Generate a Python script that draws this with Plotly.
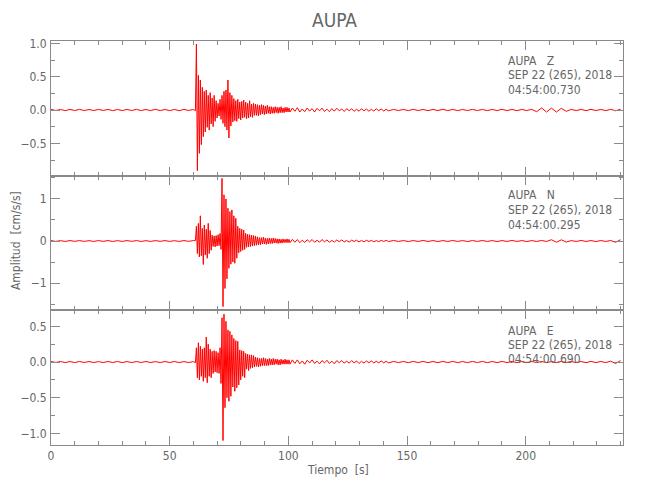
import numpy as np
import plotly.graph_objects as go
from plotly.subplots import make_subplots

# ---------------- data ----------------
STATION = "AUPA"
COMPONENTS = ["Z", "N", "E"]
DATE_LABEL = "SEP 22 (265), 2018"
START_TIMES = ["04:54:00.730", "04:54:00.295", "04:54:00.690"]

# sampling grids of the four segments of each record (s)
T_PRE = np.arange(0, 60.1, 2.0)                 # 31 samples
T_MAIN = 60.85 + 0.415 * np.arange(97)          # 97 samples
T_CODA = 101.7 + 1.04 * np.arange(40)           # 40 samples
T_TAIL = 144.3 + 2.08 * np.arange(47)           # 47 samples

Z_PRE = [0.008, -0.007, 0.007, -0.009, 0.008, -0.007, 0.009, -0.008, 0.007, -0.008,
         0.009, -0.007, 0.008, -0.009, 0.007, -0.008, 0.008, -0.007, 0.009, -0.008,
         0.007, -0.009, 0.01, -0.008, 0.007, -0.009, 0.008, -0.01, 0.009, -0.007, 0.008]
Z_MAIN = [-0.01, 0.99, -0.91, 0.52, -0.65, 0.45, -0.52, 0.34, -0.40, 0.28,
          -0.33, 0.30, -0.26, 0.22, -0.30, 0.26, -0.21, 0.18, -0.25, 0.22,
          -0.17, 0.14, -0.12, 0.10, -0.09, 0.16, -0.14, 0.22, -0.20, 0.28,
          -0.25, 0.30, -0.30, 0.45, -0.42, 0.26, -0.24, 0.22, -0.18, 0.17,
          -0.16, 0.14, -0.17, 0.16, -0.13, 0.12, -0.15, 0.13, -0.12, 0.15,
          -0.11, 0.12, -0.13, 0.10, -0.12, 0.14, -0.10, 0.09, -0.11, 0.10,
          -0.08, 0.09, -0.08, 0.08, -0.09, 0.07, -0.07, 0.08, -0.06, 0.07,
          -0.07, 0.06, -0.06, 0.07, -0.05, 0.05, -0.06, 0.05, -0.05, 0.04,
          -0.05, 0.05, -0.04, 0.04, -0.05, 0.04, -0.04, 0.05, -0.04, 0.03,
          -0.04, 0.04, -0.03, 0.04, -0.03, 0.03, -0.03]
Z_CODA = [0.03, -0.02, 0.035, -0.03, 0.015, -0.025, 0.03, -0.015, 0.02, -0.03,
          0.025, -0.012, 0.028, -0.022, 0.012, -0.025, 0.02, -0.018, 0.025, -0.012,
          0.015, -0.022, 0.02, -0.01, 0.018, -0.02, 0.012, -0.018, 0.02, -0.012,
          0.015, -0.018, 0.01, -0.015, 0.018, -0.01, 0.015, -0.015, 0.01, -0.012]
Z_TAIL = [0.009, -0.008, 0.008, -0.009, 0.009, -0.008, 0.008, -0.009, 0.008, -0.008,
          0.009, -0.008, 0.008, -0.009, 0.008, -0.008, 0.009, -0.008, 0.008, -0.009,
          0.008, -0.008, 0.009, -0.008, 0.008, -0.009, 0.008, -0.008, 0.009,
          -0.025, 0.03, -0.03, 0.028, -0.03, 0.025, -0.02,
          0.009, -0.008, 0.008, -0.009, 0.009, -0.008, 0.008, -0.009, 0.01, -0.012, 0.012]

N_PRE = [0.01, -0.009, 0.008, -0.01, 0.01, -0.008, 0.01, -0.009, 0.008, -0.01,
         0.01, -0.008, 0.01, -0.01, 0.008, -0.009, 0.01, -0.008, 0.01, -0.01,
         0.008, -0.01, 0.01, -0.008, 0.01, -0.009, 0.008, -0.01, 0.01, -0.008, 0.01]
N_MAIN = [0.01, 0.35, -0.30, 0.42, -0.38, 0.60, -0.35, 0.30, -0.56, 0.38,
          -0.33, 0.28, -0.41, 0.42, -0.30, 0.25, -0.22, 0.14, -0.13, 0.12,
          -0.14, 0.13, -0.12, 0.15, -0.11, 0.18, -0.20, 1.49, -1.56, 1.10,
          -1.13, 1.00, -0.90, 0.78, -0.65, 0.70, -0.55, 0.74, -0.50, 0.60,
          -0.53, 0.54, -0.41, 0.35, -0.28, 0.30, -0.25, 0.28, -0.22, 0.26,
          -0.20, 0.18, -0.15, 0.16, -0.14, 0.15, -0.13, 0.14, -0.12, 0.13,
          -0.11, 0.12, -0.10, 0.10, -0.09, 0.08, -0.09, 0.08, -0.07, 0.09,
          -0.07, 0.07, -0.08, 0.06, -0.07, 0.07, -0.06, 0.06, -0.06, 0.07,
          -0.05, 0.06, -0.05, 0.05, -0.06, 0.05, -0.05, 0.04, -0.05, 0.05,
          -0.04, 0.04, -0.04, 0.05, -0.04, 0.04, -0.04]
N_CODA = [0.04, -0.03, 0.035, -0.04, 0.02, -0.035, 0.03, -0.02, 0.035, -0.03,
          0.018, -0.03, 0.035, -0.02, 0.025, -0.03, 0.015, -0.025, 0.025, -0.015,
          0.025, -0.02, 0.012, -0.025, 0.02, -0.012, 0.02, -0.02, 0.012, -0.02,
          0.018, -0.012, 0.015, -0.018, 0.01, -0.015, 0.015, -0.01, 0.015, -0.012]
N_TAIL = [0.012, -0.01, 0.01, -0.012, 0.01, -0.01, 0.012, -0.01, 0.01, -0.012,
          0.01, -0.01, 0.012, -0.01, 0.01, -0.012, 0.01, -0.01, 0.012, -0.01,
          0.01, -0.012, 0.01, -0.01, 0.012, -0.01, 0.01, -0.012, 0.01, -0.01,
          0.012, -0.01,
          0.03, -0.03, 0.028, -0.025,
          0.01, -0.01, 0.012, -0.01, 0.01, -0.012, 0.01, -0.01, 0.012,
          -0.03, 0.03]

E_PRE = [0.007, -0.006, 0.007, -0.007, 0.006, -0.007, 0.007, -0.006, 0.007, -0.007,
         0.006, -0.007, 0.007, -0.006, 0.007, -0.007, 0.006, -0.007, 0.007, -0.006,
         0.007, -0.007, 0.006, -0.007, 0.007, -0.006, 0.007, -0.007, 0.006, -0.007, 0.006]
E_MAIN = [-0.01, 0.20, -0.22, 0.27, -0.25, 0.22, -0.20, 0.18, -0.27, 0.20,
          -0.22, 0.35, -0.29, 0.25, -0.20, 0.18, -0.22, 0.15, -0.16, 0.16,
          -0.14, 0.15, -0.15, 0.13, -0.16, 0.20, -0.30, 0.62, -1.10, 0.67,
          -0.64, 0.57, -0.50, 0.45, -0.55, 0.43, -0.48, 0.38, -0.35, 0.33,
          -0.41, 0.30, -0.36, 0.29, -0.32, 0.17, -0.25, 0.16, -0.20, 0.15,
          -0.22, 0.12, -0.10, 0.11, -0.12, 0.10, -0.09, 0.10, -0.08, 0.09,
          -0.07, 0.07, -0.06, 0.06, -0.07, 0.05, -0.06, 0.05, -0.05, 0.06,
          -0.05, 0.05, -0.05, 0.04, -0.05, 0.05, -0.04, 0.04, -0.04, 0.05,
          -0.04, 0.04, -0.03, 0.04, -0.04, 0.03, -0.04, 0.04, -0.03, 0.03,
          -0.03, 0.04, -0.03, 0.03, -0.03, 0.03, -0.03]
E_CODA = [0.03, -0.02, 0.03, -0.025, 0.015, -0.03, 0.025, -0.012, 0.03, -0.02,
          0.012, -0.025, 0.02, -0.012, 0.025, -0.02, 0.012, -0.025, 0.02, -0.01,
          0.02, -0.015, 0.01, -0.015, 0.02, -0.012, 0.015, -0.02, 0.01, -0.015,
          0.015, -0.01, 0.015, -0.012, 0.01, -0.01, 0.015, -0.012, 0.01, -0.012]
E_TAIL = [0.008, -0.007, 0.007, -0.008, 0.008, -0.007, 0.008, -0.008, 0.007, -0.008,
          0.008, -0.007, 0.008, -0.008, 0.007, -0.008, 0.008, -0.007, 0.008, -0.008,
          0.007, -0.008, 0.008, -0.007, 0.008, -0.008, 0.007, -0.008, 0.008, -0.007,
          0.008, -0.008, 0.007, -0.008, 0.008, -0.007, 0.008, -0.008, 0.007, -0.008,
          0.008, -0.007, 0.008, -0.008, 0.012, -0.02, 0.02]

RECORDS = {
    "Z": (Z_PRE, Z_MAIN, Z_CODA, Z_TAIL),
    "N": (N_PRE, N_MAIN, N_CODA, N_TAIL),
    "E": (E_PRE, E_MAIN, E_CODA, E_TAIL),
}

X_TICK_STEP = 50
Y_TICK_STEPS = [0.5, 1.0, 0.5]
Y_TICK_FORMATS = [".1f", "d", ".1f"]
Y_MINOR_STEPS = [0.25, 0.5, 0.25]
Y_RANGES = [[-0.985, 1.035], [-1.65, 1.555], [-1.162, 0.724]]
X_RANGE = [0, 241]

# ---------------- figure ----------------
FONT = "Liberation Sans Narrow, DejaVu Sans Condensed, Arial Narrow, sans-serif"
AX = "#8a8a8a"
TXT = "#666666"

fig = make_subplots(rows=3, cols=1, shared_xaxes=True, vertical_spacing=0)

times = np.concatenate([T_PRE, T_MAIN, T_CODA, T_TAIL])
for r, comp in enumerate(COMPONENTS, start=1):
    pre, main, coda, tail = RECORDS[comp]
    vals = np.concatenate([pre, main, coda, tail])
    assert len(vals) == len(times)
    fig.add_trace(go.Scatter(x=times, y=vals, mode="lines",
                             line=dict(color="#ff0000", width=1),
                             hoverinfo="skip", showlegend=False),
                  row=r, col=1)

for r in range(1, 4):
    fig.update_xaxes(range=X_RANGE, showgrid=False, zeroline=False,
                     showline=True, linecolor=AX, linewidth=1, mirror="ticks",
                     ticks="inside", ticklen=9, tickcolor=AX, tickwidth=1,
                     tick0=0, dtick=X_TICK_STEP,
                     minor=dict(ticks="inside", dtick=10, ticklen=4, tickcolor=AX, showgrid=False),
                     tickfont=dict(family=FONT, size=12, color=TXT),
                     showticklabels=(r == 3), row=r, col=1)
    fig.update_yaxes(range=Y_RANGES[r - 1], showgrid=False, zeroline=False,
                     showline=True, linecolor=AX, linewidth=1, mirror="ticks",
                     ticks="inside", ticklen=9, tickcolor=AX, tickwidth=1,
                     tick0=0, dtick=Y_TICK_STEPS[r - 1], tickformat=Y_TICK_FORMATS[r - 1],
                     minor=dict(ticks="inside", dtick=Y_MINOR_STEPS[r - 1], ticklen=4,
                                tickcolor=AX, showgrid=False),
                     tickfont=dict(family=FONT, size=12, color=TXT),
                     ticklabelstandoff=1,
                     row=r, col=1)

# the page adds an 8 px body margin around the figure
OFF = 8
W, H = 650, 500
L, T = 49 - OFF, 41 - OFF
R = W - (623 - OFF)
B = H - (445 - OFF)
PW, PH = W - L - R, H - T - B


def px(x, y):
    """screen pixel -> paper coordinates"""
    return (x - OFF - L) / PW, (H - B - (y - OFF)) / PH


annotations = []
tx, ty = px(333, 20)
annotations.append(dict(text=STATION, x=tx, y=ty, xref="paper", yref="paper",
                        showarrow=False, xanchor="center", yanchor="middle",
                        font=dict(family=FONT, size=19, color=TXT)))
line_y = [(61, 75, 90), (195, 210, 225), (331, 345, 359)]
for comp, st, ys in zip(COMPONENTS, START_TIMES, line_y):
    lines = [STATION + "\u00a0\u00a0\u00a0" + comp, DATE_LABEL, st]
    for text, yy in zip(lines, ys):
        ax_, ay_ = px(506, yy)
        annotations.append(dict(text=text, x=ax_, y=ay_, xref="paper", yref="paper",
                                showarrow=False, xanchor="left", yanchor="middle",
                                font=dict(family=FONT, size=12, color=TXT)))
ax_, ay_ = px(14, 241)
annotations.append(dict(text="Amplitud\u00a0\u00a0[cm/s/s]", x=ax_, y=ay_, xref="paper",
                        yref="paper", showarrow=False, textangle=-90,
                        xanchor="center", yanchor="middle",
                        font=dict(family=FONT, size=12, color=TXT)))
ax_, ay_ = px(337, 470)
annotations.append(dict(text="Tiempo\u00a0\u00a0[s]", x=ax_, y=ay_, xref="paper",
                        yref="paper", showarrow=False, xanchor="center", yanchor="middle",
                        font=dict(family=FONT, size=12, color=TXT)))

fig.update_layout(width=W, height=H, margin=dict(l=L, r=R, t=T, b=B),
                  paper_bgcolor="white", plot_bgcolor="white",
                  showlegend=False, annotations=annotations)

fig.write_html("out.html")
